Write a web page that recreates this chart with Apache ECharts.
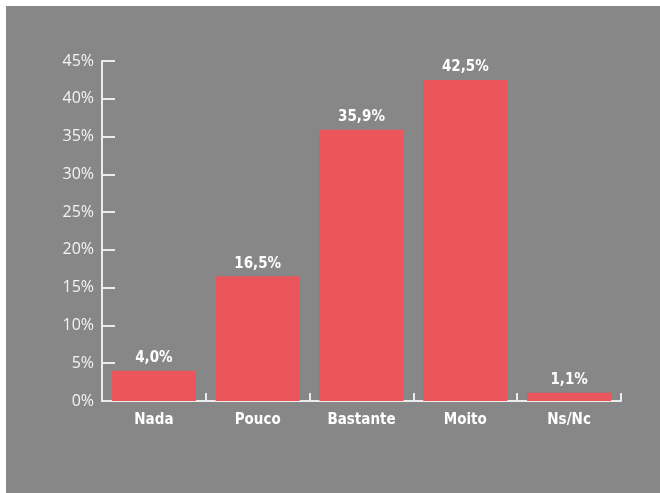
<!DOCTYPE html>
<html>
<head>
<meta charset="utf-8">
<style>
    html, body { margin: 0; padding: 0; background: #ffffff; overflow: hidden; }
    #chart { position: absolute; left: 6px; top: 6px; width: 654px; height: 487px; background: #878787; }
</style>
</head>
<body>
<div id="chart"></div>
<script src="https://cdn.jsdelivr.net/npm/echarts@6/dist/echarts.min.js"></script>
<script type="text/javascript">
    var categories = ['Nada', 'Pouco', 'Bastante', 'Moito', 'Ns/Nc'];
    var values = [4.0, 16.5, 35.9, 42.5, 1.1];
    var yTicks = [0, 5, 10, 15, 20, 25, 30, 35, 40, 45];

    var chart = echarts.init(document.getElementById('chart'));
    var labelFont = '"DejaVu Sans Condensed", "Liberation Sans Narrow", sans-serif';

    chart.setOption({
        backgroundColor: '#878787',
        animation: false,
        grid: { left: 96, right: 39, top: 55, bottom: 92 },
        xAxis: {
            type: 'category',
            data: categories,
            axisLine: { lineStyle: { color: '#ececec', width: 2 } },
            axisTick: { show: true, inside: true, length: 8, lineStyle: { color: '#ececec', width: 2 } },
            axisLabel: {
                color: '#ffffff', fontSize: 15, fontWeight: 'bold',
                fontFamily: labelFont, margin: 12
            }
        },
        yAxis: {
            type: 'value',
            min: yTicks[0],
            max: yTicks[yTicks.length - 1],
            interval: 5,
            splitLine: { show: false },
            axisLine: { show: true, lineStyle: { color: '#ececec', width: 2 } },
            axisTick: { show: true, inside: true, length: 13, lineStyle: { color: '#ececec', width: 2 } },
            axisLabel: {
                color: '#f4f4f4', fontSize: 16, margin: 8,
                fontFamily: '"Open Sans", sans-serif',
                formatter: function (v) { return v + '%'; }
            }
        },
        series: [{
            type: 'bar',
            data: values,
            barCategoryGap: '19%',
            itemStyle: { color: '#ea565c' },
            label: {
                show: true,
                position: 'top',
                distance: 5,
                color: '#ffffff',
                fontSize: 15,
                fontWeight: 'bold',
                fontFamily: labelFont,
                formatter: function (p) { return p.value.toFixed(1).replace('.', ',') + '%'; }
            }
        }]
    });
</script>
</body>
</html>
